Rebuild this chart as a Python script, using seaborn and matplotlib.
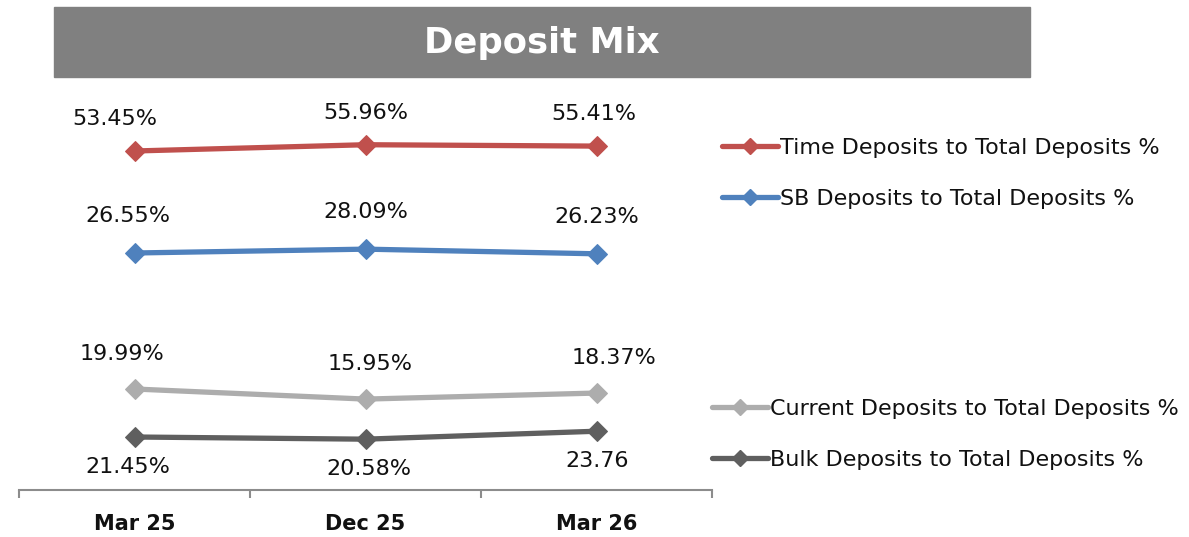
import matplotlib
matplotlib.use("Agg")
import matplotlib.pyplot as plt
from matplotlib.patches import Rectangle
from matplotlib.lines import Line2D
import seaborn as sns
import pandas as pd

# ---- data ----
periods = ["Mar 25", "Dec 25", "Mar 26"]
time_dep = [53.45, 55.96, 55.41]
sb_dep = [26.55, 28.09, 26.23]
current_dep = [19.99, 15.95, 18.37]
bulk_dep = [21.45, 20.58, 23.76]
time_labels = ["53.45%", "55.96%", "55.41%"]
sb_labels = ["26.55%", "28.09%", "26.23%"]
current_labels = ["19.99%", "15.95%", "18.37%"]
bulk_labels = ["21.45%", "20.58%", "23.76"]
series_names = ["Time Deposits to Total Deposits %", "SB Deposits to Total Deposits %",
                "Current Deposits to Total Deposits %", "Bulk Deposits to Total Deposits %"]
title = "Deposit Mix"

sns.set_style("white")
plt.rcParams["font.family"] = ["DejaVu Sans"]

W, H = 1189, 537
fig = plt.figure(figsize=(W / 100, H / 100), dpi=100)

# title banner
fig.patches.append(Rectangle((54 / W, 1 - 77 / H), 976 / W, 70 / H,
                             transform=fig.transFigure, color="#808080", zorder=0))
fig.text(542 / W, 1 - 43 / H, title, ha="center", va="center", color="white",
         fontsize=25.5, fontweight="bold")

ax_left, ax_right = 19, 712
ax_top, ax_bot = 90, 490
ax = fig.add_axes([ax_left / W, 1 - ax_bot / H, (ax_right - ax_left) / W, (ax_bot - ax_top) / H])

span = 160.0  # units shown over the axes height (common visual scale)

colors = ["#C0504D", "#4F81BD", "#ADADAD", "#5F5F5F"]
values = [time_dep, sb_dep, current_dep, bulk_dep]
labels = [time_labels, sb_labels, current_labels, bulk_labels]
# vertical placement (fraction of axes height of first point) for each series
anchors = [0.8475, 0.5925, 0.2525, 0.1325]
label_dy = [32, 37, 35, -30]
label_dx = [[-20, 0, -3], [-7, 0, 0], [-13, 5, 17], [-7, 3, 1]]

axes = [ax] + [ax.twinx() for _ in range(3)]
for a, vals, col, anc, labs, dy, dxs, name in zip(axes, values, colors, anchors, labels,
                                                  label_dy, label_dx, series_names):
    df = pd.DataFrame({"period": periods, "value": vals})
    sns.lineplot(data=df, x="period", y="value", ax=a, color=col, linewidth=3.8,
                 marker="D", markersize=10, markeredgecolor=col, legend=False, sort=False)
    low = vals[0] - anc * span
    a.set_ylim(low, low + span)
    a.set_yticks([])
    a.set_ylabel("")
    a.set_xlabel("")
    for s in ["top", "right", "left"]:
        a.spines[s].set_visible(False)
    if a is not ax:
        a.spines["bottom"].set_visible(False)
    for i, (v, t) in enumerate(zip(vals, labs)):
        a.annotate(t, (i, v), xytext=(dxs[i], dy), textcoords="offset pixels",
                   ha="center", va="center", fontsize=16, color="#111111")

ax.set_xlim(-0.5, 2.5)
ax.set_xticks(range(len(periods)))
ax.set_xticklabels(periods, fontsize=15, fontweight="bold", color="#111111")
ax.set_xticks([-0.5, 0.5, 1.5, 2.5], minor=True)
ax.tick_params(axis="x", which="major", length=0, pad=17)
ax.tick_params(axis="x", which="minor", bottom=True, length=6, width=1.5,
               color="#8C8C8C", direction="out")
ax.spines["bottom"].set_color("#8C8C8C")
ax.spines["bottom"].set_linewidth(1.5)

def handles(cols):
    return [Line2D([0], [0], color=c, linewidth=3.8, marker="D", markersize=8,
                   markeredgecolor=c) for c in cols]

leg_kw = dict(frameon=False, fontsize=16, handlelength=2.5, handletextpad=0.1,
              labelspacing=1.4, borderpad=0, borderaxespad=0, loc="center left",
              labelcolor="#111111")
fig.legend(handles(colors[:2]), series_names[:2],
           bbox_to_anchor=(722 / W, 1 - 173.5 / H), **leg_kw)
fig.legend(handles(colors[2:]), series_names[2:],
           bbox_to_anchor=(712 / W, 1 - 434.5 / H), **leg_kw)

fig.savefig("out.png", dpi=100)
